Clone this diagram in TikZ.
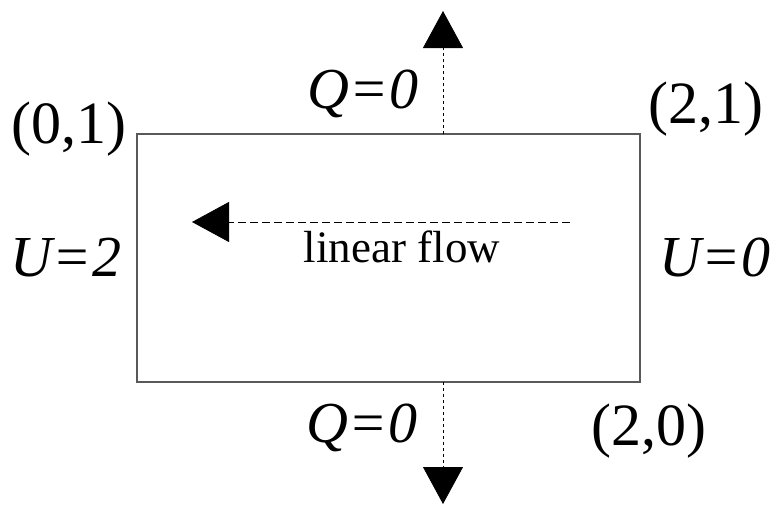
\documentclass[tikz,border=0pt]{standalone}
\usepackage{fontspec}
\setmainfont{Liberation Serif}
\usetikzlibrary{arrows.meta}
\begin{document}
\begin{tikzpicture}[x=1pt,y=-1pt,
  lbl/.style={inner sep=0pt,anchor=base,font=\fontsize{60}{66}\selectfont},
  ilbl/.style={inner sep=0pt,anchor=base,font=\fontsize{58}{64}\selectfont\itshape},
  bigtip/.style={-{Triangle[length=37pt,width=40pt]}},
  vflow/.style={bigtip,line width=0.8pt,dash pattern=on 3pt off 3pt,black},
  hflow/.style={bigtip,line width=0.8pt,dash pattern=on 8pt off 4pt,black}]
\useasboundingbox (0,0) rectangle (774,504);
\node[draw=black!65,line width=1.3pt,minimum width=503pt,minimum height=248pt,inner sep=0pt] (box) at (388.5,258) {};
\coordinate (topstart) at (443,134);
\coordinate (topend) at (443,11);
\coordinate (botstart) at (443,382);
\coordinate (botend) at (443,504);
\coordinate (hstart) at (570,222);
\coordinate (hend) at (192,222);
\draw[vflow] (topstart) -- (topend);
\draw[vflow] (botstart) -- (botend);
\draw[hflow] (hstart) -- (hend);
\node[inner sep=0pt,anchor=base,font=\fontsize{45}{50}\selectfont] (flow) at (402,262) {linear flow};
\node[lbl] (c01) at (69,143) {(0,1)};
\node[lbl] (c21) at (706,123) {(2,1)};
\node[lbl] (c20) at (649,445) {(2,0)};
\node[ilbl] (u2) at (66,276) {U=2};
\node[ilbl] (u0) at (715,276) {U=0};
\node[ilbl] (qt) at (363,108) {Q=0};
\node[ilbl] (qb) at (362,442) {Q=0};
\end{tikzpicture}
\end{document}
